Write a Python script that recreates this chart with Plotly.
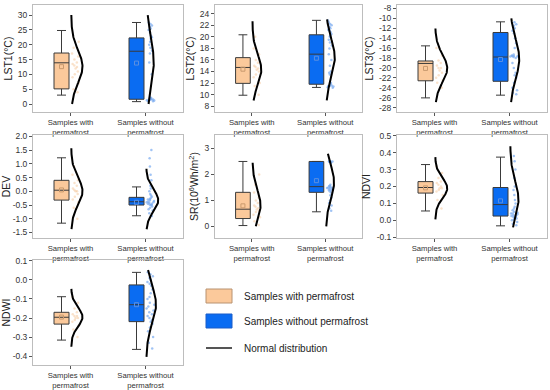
import numpy as np
import plotly.graph_objects as go

# ---------------- data ----------------
categories = ["Samples with<br>permafrost", "Samples without<br>permafrost"]
y_titles = ["LST1(°C)", "LST2(°C)", "LST3(°C)", "DEV",
            "SR(10<sup>6</sup>Wh/m<sup>2</sup>)", "NDVI", "NDWI"]

# box statistics, one entry per variable (LST1, LST2, LST3, DEV, SR, NDVI, NDWI)
with_low    = [3.0, 9.9, -26.05, -1.16, 0.03, 0.055, -0.316]
with_q1     = [5.1, 11.95, -22.6, -0.32, 0.30, 0.161, -0.232]
with_median = [13.9, 14.7, -19.1, 0.04, 0.66, 0.194, -0.196]
with_q3     = [17.2, 16.4, -18.6, 0.40, 1.31, 0.229, -0.170]
with_high   = [24.8, 20.35, -15.55, 1.22, 2.50, 0.330, -0.088]
with_mean   = [12.6, 14.4, -20.1, 0.05, 0.79, 0.192, -0.195]

without_low    = [0.8, 11.25, -25.5, -0.89, 0.56, -0.033, -0.365]
without_q1     = [1.6, 11.8, -22.7, -0.50, 1.31, 0.025, -0.219]
without_median = [17.8, 17.0, -17.8, -0.38, 1.53, 0.093, -0.130]
without_q3     = [22.3, 20.35, -12.85, -0.22, 2.50, 0.194, -0.026]
without_high   = [27.5, 22.85, -10.7, 0.16, 2.50, 0.374, 0.040]
without_mean   = [13.8, 16.3, -18.3, -0.40, 1.76, 0.115, -0.130]

# normal distribution curves: mean, sd, lower / upper extent
with_nd_mean = [12.6, 14.3, -20.1, 0.0, 0.8, 0.19, -0.195]
with_nd_sd   = [5.5, 2.6, 2.8, 0.5, 0.6, 0.06, 0.05]
with_nd_lo   = [0.0, 9.0, -26.9, -1.38, 0.0, 0.006, -0.351]
with_nd_hi   = [30.0, 22.7, -12.05, 1.57, 2.45, 0.374, -0.047]

without_nd_mean = [13.8, 16.3, -18.2, -0.33, 1.7, 0.12, -0.13]
without_nd_sd   = [9.0, 3.3, 4.0, 0.4, 0.65, 0.11, 0.10]
without_nd_lo   = [0.0, 9.0, -26.9, -1.38, 0.0, -0.042, -0.404]
without_nd_hi   = [30.0, 23.0, -10.0, 0.82, 2.8, 0.438, 0.053]

# sample points
with_points = [
    [4, 5, 7, 9, 10, 11, 12, 12.5, 13, 13.5, 14, 15, 16, 17, 19, 21],
    [10, 11.5, 12, 13, 13.5, 14, 14.3, 14.5, 14.8, 15, 15.5, 16, 17, 18, 20],
    [-16, -17.5, -18.5, -19, -19.5, -20, -20, -20.5, -21, -21.5, -22, -22.5, -23, -24],
    [-1.0, -0.6, -0.4, -0.3, -0.2, -0.1, 0, 0, 0.05, 0.1, 0.2, 0.3, 0.4, 0.6, 0.9],
    [0.05, 0.2, 0.35, 0.45, 0.55, 0.6, 0.65, 0.7, 0.75, 0.8, 0.9, 1.0, 1.1, 1.3, 1.6, 2.0],
    [0.07, 0.12, 0.15, 0.17, 0.18, 0.19, 0.19, 0.2, 0.21, 0.22, 0.23, 0.25, 0.28, 0.32],
    [-0.3, -0.26, -0.24, -0.22, -0.21, -0.2, -0.2, -0.19, -0.19, -0.18, -0.17, -0.15, -0.12, -0.09],
]
without_points = [
    [0.9, 1.0, 1.2, 1.3, 1.4, 1.5, 1.5, 1.6, 1.7, 1.8, 2.0, 2.2, 10, 14, 17, 18, 19, 20,
     21, 22, 22.5, 23, 24, 25, 25.5, 26, 26.5, 27, 27.5],
    [22.8, 22.5, 22.2, 22, 21.7, 21.5, 21.2, 21, 20.8, 20.5, 20.2, 20, 19.5, 19, 18.5, 18,
     17, 16, 15, 14, 13.8, 13.5, 12, 11.8, 11.6, 11.5, 11.5, 11.4, 11.3, 11.2],
    [-10.8, -11.2, -11.5, -12, -12.5, -13, -14, -15, -16, -17.3, -17.5, -17.6, -17.6, -17.6,
     -17.7, -17.7, -17.8, -18, -19, -20, -21, -21.5, -22, -23, -24, -24.5, -25, -25.3],
    [-0.9, -0.8, -0.7, -0.65, -0.6, -0.55, -0.5, -0.5, -0.48, -0.45, -0.45, -0.42, -0.4, -0.4,
     -0.38, -0.35, -0.33, -0.3, -0.28, -0.25, -0.2, -0.15, -0.1, 0.0, 0.1, 0.2, 0.4, 0.6,
     0.9, 1.2, 1.5],
    [2.5, 2.5, 2.5, 2.5, 2.5, 2.5, 2.48, 2.45, 1.6, 1.55, 1.55, 1.5, 1.5, 1.5, 1.48, 1.45,
     1.45, 1.4, 1.4, 1.35, 1.3, 1.2, 1.1, 1.0, 0.9, 0.8, 0.7, 0.6],
    [-0.03, -0.02, -0.01, 0.0, 0.005, 0.01, 0.015, 0.02, 0.02, 0.025, 0.03, 0.03, 0.035, 0.04,
     0.04, 0.045, 0.05, 0.06, 0.07, 0.08, 0.1, 0.12, 0.15, 0.18, 0.2, 0.25, 0.3, 0.35, 0.38],
    [0.04, 0.03, 0.02, 0.01, 0.0, -0.01, -0.02, -0.03, -0.05, -0.07, -0.09, -0.1, -0.12, -0.13,
     -0.14, -0.15, -0.16, -0.17, -0.18, -0.19, -0.2, -0.21, -0.22, -0.23, -0.25, -0.27, -0.3,
     -0.33, -0.36],
]

# y axis ranges and tick values
y_ranges = [[-2.7, 33.4], [7.0, 25.5], [-28.9, -7.3], [-1.7, 2.05],
            [-0.45, 3.52], [-0.105, 0.505], [-0.447, 0.105]]
y_ticks = [
    [0, 5, 10, 15, 20, 25, 30],
    [8, 10, 12, 14, 16, 18, 20, 22, 24],
    [-28, -26, -24, -22, -20, -18, -16, -14, -12, -10, -8],
    [-1.5, -1.0, -0.5, 0.0, 0.5, 1.0, 1.5, 2.0],
    [0, 1, 2, 3],
    [-0.1, 0.0, 0.1, 0.2, 0.3, 0.4, 0.5],
    [-0.4, -0.3, -0.2, -0.1, 0.0, 0.1],
]
tick_decimals = [0, 0, 0, 1, 0, 1, 1]

legend_labels = ["Samples with permafrost", "Samples without permafrost", "Normal distribution"]

# ---------------- style ----------------
FONT = "Arial, Liberation Sans, sans-serif"
W, H = 550, 390
ORANGE_FILL = "#FBC99B"
ORANGE_PT = "rgba(245,190,140,0.45)"
ORANGE_MEAN = "#C99A6E"
BLUE_FILL = "#0A6CF2"
BLUE_PT = "rgba(120,170,240,0.7)"
BLUE_MEAN = "#5B8FE0"
BOX_LINE = "#3A3A3A"
FRAME = "#BDBDBD"

# panel frames in pixels: (left, right, top, bottom)
panel_px = [
    (33, 183, 5, 112), (215, 362, 5, 112), (397, 547, 5, 112),
    (33, 183, 135, 238), (215, 362, 135, 238), (397, 547, 135, 238),
    (33, 183, 260, 365),
]

BOX_OFF, BOX_W = -0.12, 0.2
PT_OFF, PT_W = 0.07, 0.12
ND_OFF = 0.01
with_amp = [0.15, 0.12, 0.16, 0.15, 0.11, 0.16, 0.15]
without_amp = [0.10, 0.12, 0.12, 0.16, 0.11, 0.11, 0.13]

fig = go.Figure()
layout = {}

for i in range(7):
    xa = "x" if i == 0 else f"x{i+1}"
    ya = "y" if i == 0 else f"y{i+1}"
    l, r, t, b = panel_px[i]

    groups = [
        (0, with_low, with_q1, with_median, with_q3, with_high, with_mean, ORANGE_FILL,
         ORANGE_PT, ORANGE_MEAN, with_points, with_nd_mean, with_nd_sd, with_nd_lo,
         with_nd_hi, with_amp),
        (1, without_low, without_q1, without_median, without_q3, without_high, without_mean,
         BLUE_FILL, BLUE_PT, BLUE_MEAN, without_points, without_nd_mean, without_nd_sd,
         without_nd_lo, without_nd_hi, without_amp),
    ]
    for (c, lo_, q1_, med_, q3_, hi_, mean_, fill, ptc, mc, pts, ndm, nds, ndlo, ndhi,
         amp) in groups:
        fig.add_trace(go.Box(
            y=pts[i], x0=c + PT_OFF, width=PT_W, boxpoints="all", jitter=1.0, pointpos=0,
            fillcolor="rgba(0,0,0,0)", line=dict(width=0, color="rgba(0,0,0,0)"),
            marker=dict(color=ptc, size=2.5, line=dict(width=0)),
            xaxis=xa, yaxis=ya, showlegend=False, hoverinfo="skip"))
        fig.add_trace(go.Box(
            x=[c + BOX_OFF], q1=[q1_[i]], median=[med_[i]], q3=[q3_[i]],
            lowerfence=[lo_[i]], upperfence=[hi_[i]], width=BOX_W, whiskerwidth=0.6,
            fillcolor=fill, line=dict(color=BOX_LINE, width=1), boxpoints=False,
            xaxis=xa, yaxis=ya, showlegend=False))
        fig.add_trace(go.Scatter(
            x=[c + BOX_OFF], y=[mean_[i]], mode="markers",
            marker=dict(symbol="square-open", size=4, color=mc, line=dict(width=1)),
            xaxis=xa, yaxis=ya, showlegend=False, hoverinfo="skip"))
        yy = np.linspace(ndlo[i], ndhi[i], 120)
        xx = c + ND_OFF + amp[i] * np.exp(-0.5 * ((yy - ndm[i]) / nds[i]) ** 2)
        fig.add_trace(go.Scatter(
            x=xx, y=yy, mode="lines", line=dict(color="black", width=2),
            xaxis=xa, yaxis=ya, showlegend=False, hoverinfo="skip"))

    xkey = "xaxis" if i == 0 else f"xaxis{i+1}"
    ykey = "yaxis" if i == 0 else f"yaxis{i+1}"
    layout[xkey] = dict(
        domain=[l / W, r / W], anchor=ya, range=[-0.5, 1.5], automargin=False,
        tickvals=[0, 1], ticktext=categories, ticks="outside", ticklen=3,
        tickcolor="#555", showline=True, mirror=True, linecolor=FRAME, linewidth=1,
        showgrid=False, zeroline=False,
        tickfont=dict(family=FONT, size=7.7, color="#333"))
    layout[ykey] = dict(
        domain=[1 - b / H, 1 - t / H], anchor=xa, range=y_ranges[i], automargin=False,
        tickvals=y_ticks[i],
        ticktext=[f"{v:.{tick_decimals[i]}f}" for v in y_ticks[i]],
        ticks="outside", ticklen=3, tickcolor="#555",
        showline=True, mirror=True, linecolor=FRAME, linewidth=1,
        showgrid=False, zeroline=False,
        tickfont=dict(family=FONT, size=8.5, color="#333"),
        title=dict(text=y_titles[i], font=dict(family=FONT, size=10.5, color="#222"),
                   standoff=3))

shapes = [
    dict(type="rect", xref="paper", yref="paper", x0=206 / W, x1=232 / W,
         y0=1 - 303 / H, y1=1 - 289 / H, fillcolor=ORANGE_FILL,
         line=dict(color="#B89270", width=1)),
    dict(type="rect", xref="paper", yref="paper", x0=206 / W, x1=232 / W,
         y0=1 - 328 / H, y1=1 - 314 / H, fillcolor=BLUE_FILL,
         line=dict(color="#1A5CC8", width=1)),
    dict(type="line", xref="paper", yref="paper", x0=206 / W, x1=232 / W,
         y0=1 - 348 / H, y1=1 - 348 / H, line=dict(color="#555", width=2)),
]
ann = []
for lab, yp in zip(legend_labels, [296, 321, 348]):
    ann.append(dict(text=lab, xref="paper", yref="paper", x=242 / W, y=1 - yp / H,
                    xanchor="left", yanchor="middle", showarrow=False,
                    font=dict(family=FONT, size=10, color="#222")))

fig.update_layout(
    width=W, height=H, margin=dict(l=0, r=0, t=0, b=0, autoexpand=False),
    paper_bgcolor="white", plot_bgcolor="white",
    shapes=shapes, annotations=ann, boxgap=0, boxgroupgap=0, boxmode="overlay",
    **layout)

fig.write_html("out.html", config={"displayModeBar": False},
               post_script="document.body.style.margin='0';")
